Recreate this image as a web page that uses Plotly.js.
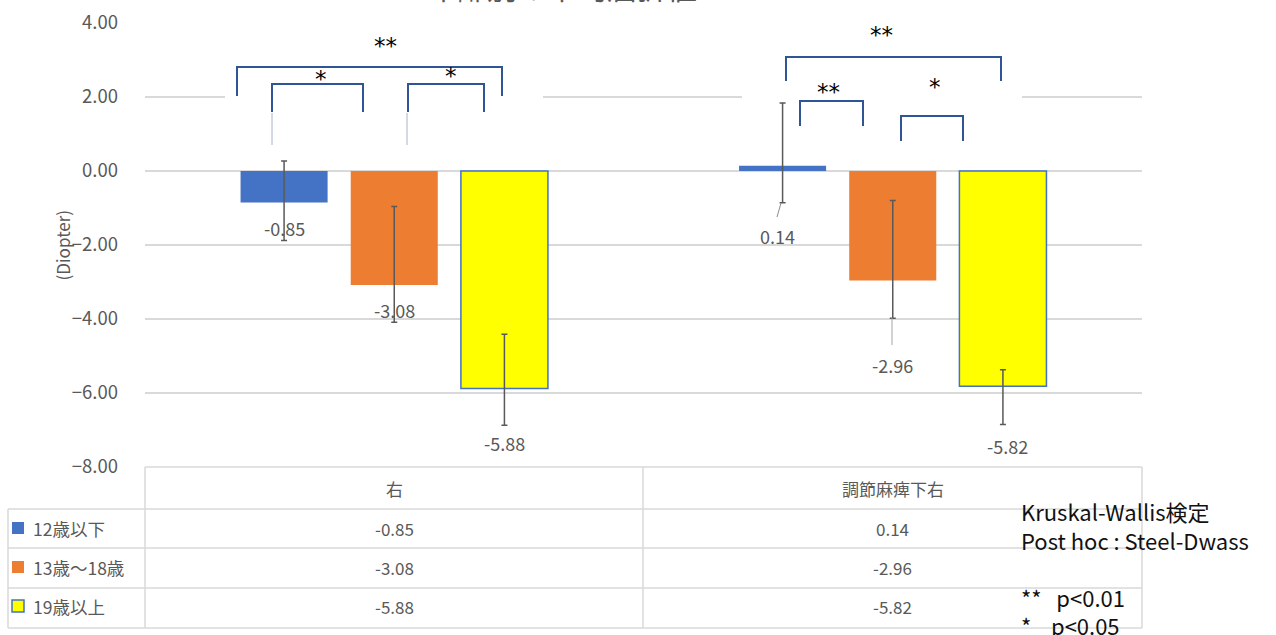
<!DOCTYPE html>
<html>
<head>
<meta charset="utf-8">
<script src="https://cdn.plot.ly/plotly-3.0.1.min.js"></script>
<style>
  html, body { margin: 0; padding: 0; background: #ffffff; }
  #chart { width: 1276px; height: 635px; }
</style>
</head>
<body>
<div id="chart"></div>
<script>
// ---- data ----
const categories = ["右", "調節麻痺下右"];
const seriesNames = ["12歳以下", "13歳～18歳", "19歳以上"];
const under12 = [-0.85, 0.14];
const age13to18 = [-3.08, -2.96];
const over19 = [-5.88, -5.82];
const under12ErrPlus = [1.12, 1.70];
const under12ErrMinus = [1.03, 1.00];
const age13to18ErrPlus = [2.12, 2.16];
const age13to18ErrMinus = [1.01, 1.02];
const over19ErrPlus = [1.47, 0.45];
const over19ErrMinus = [0.99, 1.03];
const yTickValues = [-8, -6, -4, -2, 0, 2, 4];
const statNotes = ["Kruskal-Wallis検定", "Post hoc : Steel-Dwass", "", "**   p<0.01", "*    p<0.05"];

// ---- styling / layout ----
const W = 1276, H = 635;
const L = 145, R = 1142, T = 23, B = 467;
const px = x => (x - L) / (R - L);
const py = y => (B - y) / (B - T);
const font = "'Noto Sans CJK JP', 'Noto Sans', sans-serif";
const grey = "#595959";
const colors = ["#4472C4", "#ED7D31", "#FFFF00"];
const seriesVals = [under12, age13to18, over19];
const errP = [under12ErrPlus, age13to18ErrPlus, over19ErrPlus];
const errM = [under12ErrMinus, age13to18ErrMinus, over19ErrMinus];

const traces = seriesVals.map((vals, i) => ({
  type: "bar",
  name: seriesNames[i],
  x: categories,
  y: vals,
  marker: {
    color: colors[i],
    line: { color: i === 2 ? "#4472C4" : colors[i], width: i === 2 ? 1.5 : 0 }
  },
  error_y: {
    type: "data", symmetric: false,
    array: errP[i], arrayminus: errM[i],
    color: grey, thickness: 1.5, width: 3
  },
  hoverinfo: "skip",
  showlegend: false
}));

// label positions (manually placed data labels as in original)
const labelY = [[-1.54, -1.75], [-3.75, -5.23], [-7.36, -7.44]];
const labelDX = [[0, -0.01], [0, 0], [0, 0.01]];
const slot = 0.221;

const annotations = [];
seriesVals.forEach((vals, i) => {
  vals.forEach((v, c) => {
    annotations.push({
      xref: "x", yref: "y", x: c + (i - 1) * slot + labelDX[i][c], y: labelY[i][c],
      text: v.toFixed(2), showarrow: false,
      font: { family: font, size: 18, color: grey }
    });
  });
});

// y axis title
annotations.push({
  xref: "paper", yref: "paper", x: px(47), y: py(245),
  text: "(Diopter)", textangle: -90, showarrow: false,
  font: { family: font, size: 17, color: grey }
});

// cut-off chart title
annotations.push({
  xref: "paper", yref: "paper", x: px(562), y: py(-14), yanchor: "middle",
  text: "年齢別の平均屈折値", showarrow: false,
  font: { family: font, size: 30, color: grey }
});

// significance stars
const stars = [
  ["**", 372, 46], ["*", 313, 79], ["*", 443, 76],
  ["**", 895, 35], ["**", 842, 92], ["*", 943, 87]
];
stars.forEach(s => annotations.push({
  xref: "paper", yref: "paper", x: px(s[1]), y: py(s[2]), yanchor: "middle",
  text: s[0], showarrow: false,
  font: { family: "'DejaVu Sans', sans-serif", size: 23, color: "#000000" }
}));

// table texts
const tableRowsY = [528, 567, 606];
categories.forEach((c, ci) => {
  annotations.push({
    xref: "x", yref: "paper", x: ci, y: py(488), yanchor: "middle",
    text: c, showarrow: false, font: { family: font, size: 17, color: grey }
  });
  seriesVals.forEach((vals, si) => {
    annotations.push({
      xref: "x", yref: "paper", x: ci, y: py(tableRowsY[si]), yanchor: "middle",
      text: vals[ci].toFixed(2), showarrow: false, font: { family: font, size: 17, color: grey }
    });
  });
});
seriesNames.forEach((n, si) => {
  annotations.push({
    xref: "paper", yref: "paper", x: px(31), y: py(tableRowsY[si]), xanchor: "left", yanchor: "middle",
    text: n, showarrow: false, font: { family: font, size: 17.5, color: grey }
  });
});

// stat notes (one multi-line text box)
annotations.push({
  xref: "paper", yref: "paper", x: px(1019), y: py(568), xanchor: "left", yanchor: "middle",
  align: "left", text: statNotes.map(t => t || " ").join("<br>"), showarrow: false,
  font: { family: font, size: 22, color: "#111111" }
});

// shapes
const shapes = [];
const tableLine = { color: "#D9D9D9", width: 1.5 };
const hl = (x0, x1, y) => shapes.push({ type: "line", xref: "paper", yref: "paper", x0: px(x0), x1: px(x1), y0: py(y), y1: py(y), line: tableLine });
const vl = (x, y0, y1) => shapes.push({ type: "line", xref: "paper", yref: "paper", x0: px(x), x1: px(x), y0: py(y0), y1: py(y1), line: tableLine });
hl(L, R, 467); hl(8, R, 509); hl(8, R, 548); hl(8, R, 588); hl(8, R, 628);
vl(L, 467, 628); vl(643, 467, 628); vl(R, 467, 628); vl(8, 509, 628);

// legend keys
tableRowsY.forEach((y, si) => {
  shapes.push({
    type: "rect", xref: "paper", yref: "paper",
    x0: px(12), x1: px(24), y0: py(y - 6), y1: py(y + 6),
    fillcolor: colors[si], line: { color: si === 2 ? "#4472C4" : colors[si], width: si === 2 ? 1.5 : 0 }
  });
});

// white text boxes behind brackets (hide the 2.00 gridline), in axis units
const catPx = 498.5, unitPx = 37;
const cx = p => (p - L) / catPx - 0.5;
const dy = p => (171 - p) / unitPx;
[[225, 543], [742, 1022]].forEach(b => shapes.push({
  type: "rect", xref: "x", yref: "y", layer: "between",
  x0: cx(b[0]), x1: cx(b[1]), y0: dy(150), y1: dy(30),
  fillcolor: "#ffffff", line: { width: 0 }
}));

// brackets
const bracketColor = "#2F5597";
const brackets = [
  [237, 502, 67, 96], [272, 363, 84, 112], [408, 484, 84, 112],
  [786, 1001, 57, 81], [800, 863, 101, 126], [901, 963, 116, 141]
];
brackets.forEach(b => {
  const [x0, x1, top, leg] = b;
  shapes.push({
    type: "path", xref: "paper", yref: "paper",
    path: `M ${px(x0)} ${py(leg)} L ${px(x0)} ${py(top)} L ${px(x1)} ${py(top)} L ${px(x1)} ${py(leg)}`,
    line: { color: bracketColor, width: 2 }
  });
});

// faint leader lines
[[272, 113, 272, 145, "#A6B4CC"], [407, 113, 407, 145, "#A6B4CC"],
 [781, 203, 777, 217, "#8C8C8C"], [892, 318, 892, 345, "#A6A6A6"]].forEach(l => shapes.push({
  type: "line", xref: "paper", yref: "paper",
  x0: px(l[0]), y0: py(l[1]), x1: px(l[2]), y1: py(l[3]),
  line: { color: l[4], width: 1 }
}));

const layout = {
  width: W, height: H,
  margin: { l: L, r: W - R, t: T, b: H - B, pad: 0 },
  paper_bgcolor: "#ffffff", plot_bgcolor: "#ffffff",
  barmode: "group", bargap: 0.337, bargroupgap: 0.21,
  showlegend: false,
  xaxis: {
    type: "category", categoryorder: "array", categoryarray: categories,
    range: [-0.5, 1.5],
    showticklabels: false, showgrid: false, zeroline: false, showline: false, ticks: ""
  },
  yaxis: {
    range: [-8, 4], tickvals: yTickValues, tickformat: ".2f",
    showgrid: true, gridcolor: "#D9D9D9", gridwidth: 1.5,
    zeroline: false, showline: false, ticks: "",
    ticklabelstandoff: 26,
    tickfont: { family: font, size: 18.5, color: grey }
  },
  annotations: annotations,
  shapes: shapes,
  font: { family: font }
};

Plotly.newPlot("chart", traces, layout, { displayModeBar: false, staticPlot: true });
</script>
</body>
</html>
